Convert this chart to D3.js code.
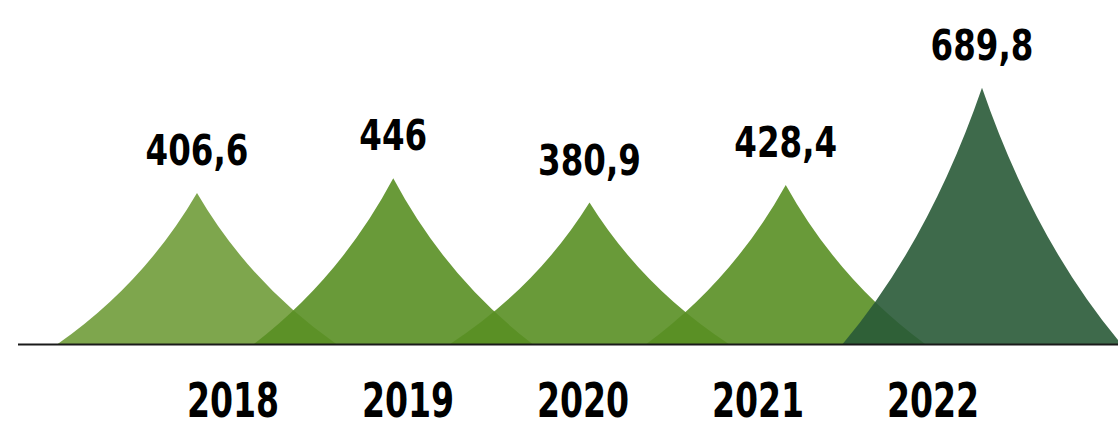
<!DOCTYPE html>
<html>
<head>
<meta charset="utf-8">
<script src="https://cdn.jsdelivr.net/npm/d3@7"></script>
<style>
  body { margin: 0; background: #fff; }
  svg text { font-family: "Liberation Sans Narrow", "DejaVu Sans Condensed", sans-serif; font-weight: bold; fill: #000; }
</style>
</head>
<body>
<div id="chart"></div>
<script>
// data
var years = ["2018", "2019", "2020", "2021", "2022"];
var values = [406.6, 446, 380.9, 428.4, 689.8];
var valueLabels = ["406,6", "446", "380,9", "428,4", "689,8"];
var colors = ["#709c3a", "#598f24", "#598f24", "#598f24", "#295a37"];

var svgWidth = 1118;
var svgHeight = 422;
var baseY = 344;

var svg = d3.select("#chart").append("svg")
    .attr("width", svgWidth)
    .attr("height", svgHeight);

var x = d3.scalePoint()
    .domain(years)
    .range([197, 982]);

// year labels sit on their own spacing, not under the peaks
var xLabel = d3.scalePoint()
    .domain(years)
    .range([233, 933]);

var y = d3.scaleLinear()
    .domain([0, 700])
    .range([baseY, 84]);

var halfW = x.step() * 0.71;

// concave "peak" shape
function peak(d, i) {
    var cx = x(years[i]);
    var top = y(d);
    var h = baseY - top;
    var p = d3.path();
    p.moveTo(cx - halfW, baseY);
    p.quadraticCurveTo(cx - halfW * 0.38, baseY - h * 0.4, cx, top);
    p.quadraticCurveTo(cx + halfW * 0.38, baseY - h * 0.4, cx + halfW, baseY);
    p.closePath();
    return p.toString();
}

svg.selectAll("path.peak")
    .data(values)
    .enter()
    .append("path")
    .attr("class", "peak")
    .attr("d", peak)
    .attr("fill", function(d, i) { return colors[i]; })
    .attr("fill-opacity", 0.9);

// baseline
svg.append("line")
    .attr("x1", 18)
    .attr("x2", svgWidth)
    .attr("y1", baseY + 0.5)
    .attr("y2", baseY + 0.5)
    .attr("stroke", "#1a1a1a")
    .attr("stroke-width", 2);

// value labels above the peaks (squeezed to look condensed)
svg.selectAll("text.val")
    .data(values)
    .enter()
    .append("text")
    .attr("class", "val")
    .attr("transform", function(d, i) {
        return "translate(" + x(years[i]) + "," + (y(d) - 28) + ") scale(0.86,1.02)";
    })
    .attr("text-anchor", "middle")
    .style("font-size", "42px")
    .text(function(d, i) { return valueLabels[i]; });

// year labels
svg.selectAll("text.year")
    .data(years)
    .enter()
    .append("text")
    .attr("class", "year")
    .attr("transform", function(d) {
        return "translate(" + xLabel(d) + ",417) scale(0.8,1.05)";
    })
    .attr("text-anchor", "middle")
    .style("font-size", "46px")
    .text(function(d) { return d; });
</script>
</body>
</html>
